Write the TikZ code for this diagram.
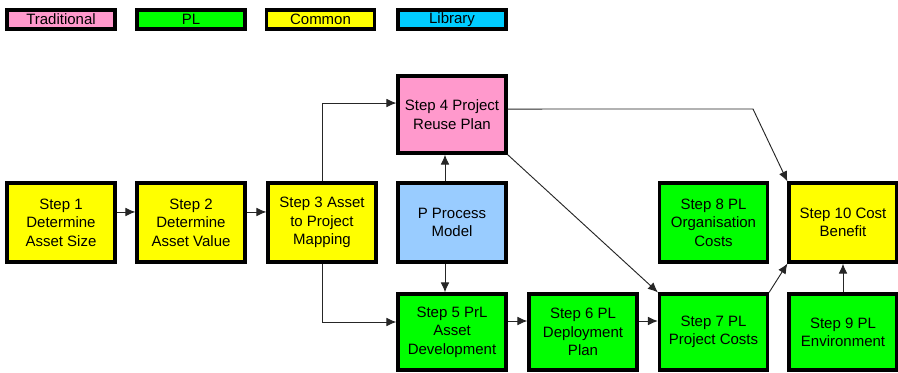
\documentclass[tikz,border=0pt]{standalone}
\usepackage{fontspec}
\setmainfont{Liberation Sans}
\usetikzlibrary{arrows.meta}
\definecolor{tradpink}{HTML}{FF99CC}
\definecolor{plgreen}{HTML}{00FF00}
\definecolor{commonyellow}{HTML}{FFFF00}
\definecolor{libblue}{HTML}{00CCFF}
\definecolor{procblue}{HTML}{99CCFF}
\tikzset{
  box/.style={draw=black, line width=2.4pt, align=center, inner sep=0pt,
    minimum width=81pt, minimum height=59.25pt,
    font=\fontsize{11.25pt}{13.75pt}\selectfont},
  legendbox/.style={box, minimum height=14.25pt},
  trad/.style={fill=tradpink},
  pl/.style={fill=plgreen},
  common/.style={fill=commonyellow},
  lib/.style={fill=libblue},
  proc/.style={fill=procblue},
  flow/.style={draw=black!85, line width=0.7pt, -{Latex[length=7.5pt,width=6.5pt]}}
}
\begin{document}
\begin{tikzpicture}[x=0.75pt,y=-0.75pt]
\useasboundingbox (0,0) rectangle (898,372);

% legend
\node[legendbox,trad]   (lgtrad) at (61,19.5)   {Traditional};
\node[legendbox,pl]     (lgpl)   at (191,19.5)  {PL};
\node[legendbox,common] (lgcom)  at (320.5,19.5){Common};
\node[legendbox,lib]    (lglib)  at (452,19.5)  {Library};

% middle row
\node[box,common] (s1)  at (61,222.5)   {Step 1\\Determine\\Asset Size};
\node[box,common] (s2)  at (191,222.5)  {Step 2\\Determine\\Asset Value};
\node[box,common] (s3)  at (322,222.5)  {Step 3 Asset\\to Project\\Mapping};
\node[box,proc]   (pp)  at (452,222.5)  {P Process\\Model};
\node[box,pl]     (s8)  at (713.5,222.5){Step 8 PL\\Organisation\\Costs};
\node[box,common] (s10) at (843,222.5)  {Step 10 Cost\\Benefit};

% top row
\node[box,trad,minimum height=57.75pt] (s4) at (452,114.5) {Step 4 Project\\Reuse Plan};

% bottom row
\node[box,pl,minimum height=57pt] (s5) at (452,332)   {Step 5 PrL\\Asset\\Development};
\node[box,pl,minimum height=57pt] (s6) at (583,332)   {Step 6 PL\\Deployment\\Plan};
\node[box,pl,minimum height=57pt] (s7) at (713.5,332) {Step 7 PL\\Project Costs};
\node[box,pl,minimum height=57pt] (s9) at (843,332)   {Step 9 PL\\Environment};

% connectors
\draw[flow] ([yshift=7.9pt]s1.east) -- ([yshift=7.9pt]s2.west);
\draw[flow] ([yshift=7.9pt]s2.east) -- ([yshift=7.9pt]s3.west);
\draw[flow] (s3.north) |- ([yshift=8.6pt]s4.west);
\draw[flow] (s3.south) |- ([yshift=7.5pt]s5.west);
\draw[flow] ([xshift=-5.25pt]pp.north) -- ([xshift=-5.25pt]s4.south);
\draw[flow] ([xshift=-5.25pt]pp.south) -- ([xshift=-5.25pt]s5.north);
\draw[flow] ([yshift=8.25pt]s5.east) -- ([yshift=8.25pt]s6.west);
\draw[flow] ([yshift=8.25pt]s6.east) -- ([yshift=8.25pt]s7.west);
\coordinate (bend) at (753,109);
\draw[flow] ([yshift=4.1pt]s4.east) -- (bend) -- (s10.north west);
\draw[flow] (s4.south east) -- (s7.north west);
\draw[flow] (s7.north east) -- (s10.south west);
\draw[flow] (s9.north) -- (s10.south);
\end{tikzpicture}
\end{document}
